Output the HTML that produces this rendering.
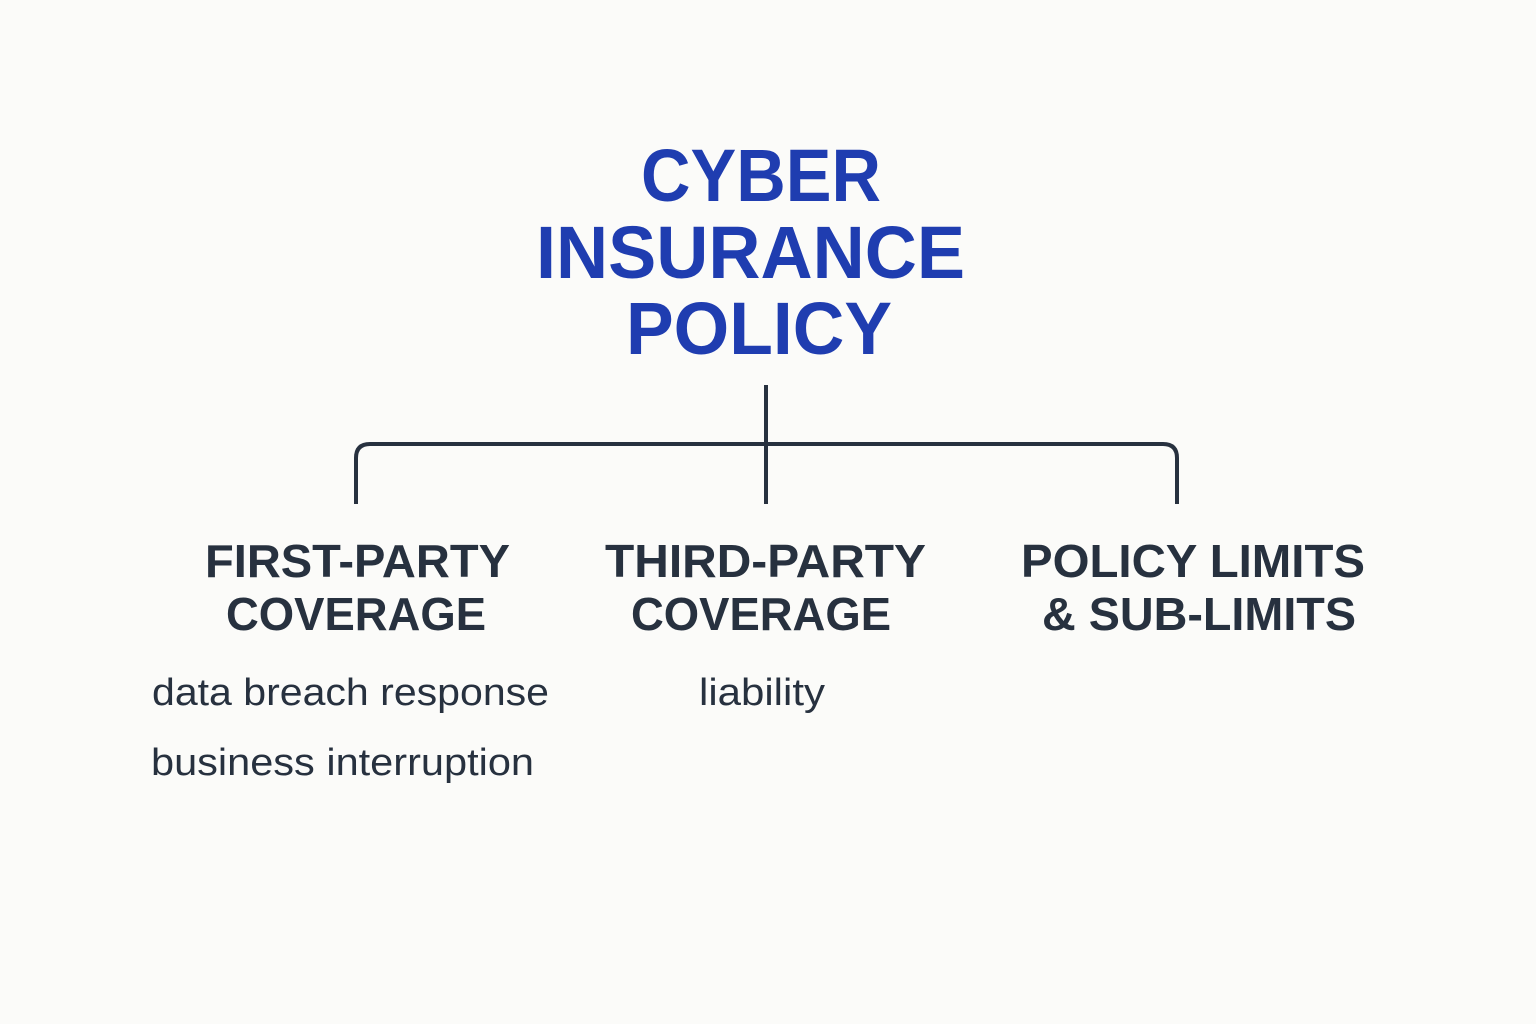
<!DOCTYPE html>
<html><head><meta charset="utf-8"><style>
html,body{margin:0;padding:0;background:#fbfbf9;}
svg{display:block}
</style></head><body>
<svg width="1536" height="1024" viewBox="0 0 1536 1024" xmlns="http://www.w3.org/2000/svg">
<rect width="1536" height="1024" fill="#fbfbf9"/>
<g font-family="Liberation Sans, sans-serif" font-weight="bold" fill="#1f3db0" font-size="74">
<text x="641" y="201" textLength="240" lengthAdjust="spacingAndGlyphs">CYBER</text>
<text x="536" y="278" textLength="429" lengthAdjust="spacingAndGlyphs">INSURANCE</text>
<text x="626" y="354" textLength="266" lengthAdjust="spacingAndGlyphs">POLICY</text>
</g>
<g fill="none" stroke="#27313f" stroke-width="4" stroke-linecap="butt">
<line x1="766" y1="385" x2="766" y2="504"/>
<path d="M356 504 V458 Q356 444 370 444 H1163 Q1177 444 1177 458 V504"/>
</g>
<g font-family="Liberation Sans, sans-serif" font-weight="bold" fill="#27313f" font-size="46">
<text x="205" y="577" textLength="305" lengthAdjust="spacingAndGlyphs">FIRST-PARTY</text>
<text x="226" y="630" textLength="260" lengthAdjust="spacingAndGlyphs">COVERAGE</text>
<text x="605" y="577" textLength="321" lengthAdjust="spacingAndGlyphs">THIRD-PARTY</text>
<text x="631" y="630" textLength="260" lengthAdjust="spacingAndGlyphs">COVERAGE</text>
<text x="1021" y="577" textLength="344" lengthAdjust="spacingAndGlyphs">POLICY LIMITS</text>
<text x="1042" y="630" textLength="314" lengthAdjust="spacingAndGlyphs">&amp; SUB-LIMITS</text>
</g>
<g font-family="Liberation Sans, sans-serif" fill="#27313f" font-size="38">
<text x="152" y="705" textLength="397" lengthAdjust="spacingAndGlyphs">data breach response</text>
<text x="151" y="775" textLength="383" lengthAdjust="spacingAndGlyphs">business interruption</text>
<text x="699" y="705" textLength="126" lengthAdjust="spacingAndGlyphs">liability</text>
</g>
</svg>
</body></html>
